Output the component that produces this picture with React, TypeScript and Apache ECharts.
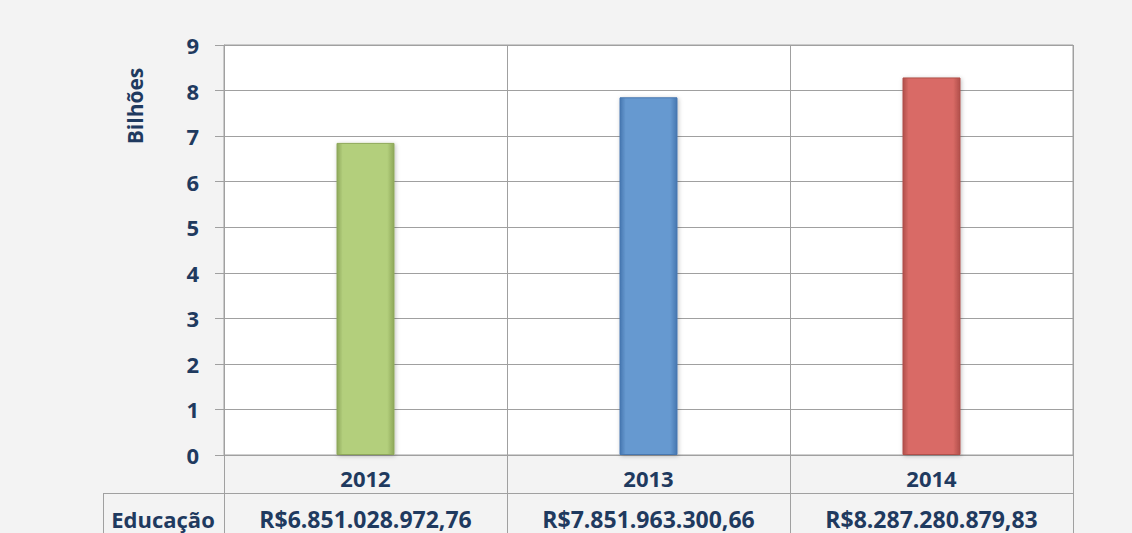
import React, { useEffect, useRef } from "react";
import * as echarts from "echarts";

const categories = ["2012", "2013", "2014"];
const valuesBillions = [6.85102897276, 7.85196330066, 8.28728087983];
const valueLabels = ["R$6.851.028.972,76", "R$7.851.963.300,66", "R$8.287.280.879,83"];
const rowLabel = "Educação";
const yAxisTitle = "Bilhões";
const barColors = [
  { main: "#B3CF7C", edge: "#8EA85A" },
  { main: "#6699D0", edge: "#4677B0" },
  { main: "#D96B66", edge: "#B04F4A" },
];

const TEXT = "#1F3A5F";
const LINE = "#A0A0A0";
const FONT = "'Open Sans', 'Noto Sans', sans-serif";

export default function App() {
  const ref = useRef<HTMLDivElement>(null);
  useEffect(() => {
    document.body.style.margin = "0";
    const chart = echarts.init(ref.current!, null, { renderer: "svg" });
    const gl = 224, gt = 45, gw = 849, gh = 410;
    chart.setOption({
      animation: false,
      backgroundColor: "#F3F3F3",
      grid: { left: gl, top: gt, width: gw, height: gh, show: true, backgroundColor: "#FFFFFF", borderColor: LINE, borderWidth: 1 },
      xAxis: [
        {
          type: "category",
          data: categories,
          axisLine: { show: true, lineStyle: { color: LINE } },
          axisTick: { show: true, length: 78, lineStyle: { color: LINE } },
          splitLine: { show: true, lineStyle: { color: LINE } },
          axisLabel: { margin: 12, color: TEXT, fontSize: 22, fontWeight: "bold", fontFamily: FONT },
        },
        {
          type: "category",
          data: categories,
          position: "bottom",
          offset: 38,
          axisLine: { show: false },
          axisTick: { show: false },
          axisLabel: {
            margin: 14,
            color: TEXT,
            fontSize: 23,
            fontWeight: "bold",
            fontFamily: FONT,
            formatter: (_v: string, i: number) => valueLabels[i],
          },
        },
      ],
      yAxis: {
        type: "value",
        min: 0,
        max: 9,
        interval: 1,
        axisLine: { show: true, lineStyle: { color: LINE } },
        axisTick: { show: true, length: 9, lineStyle: { color: LINE } },
        splitLine: { show: true, lineStyle: { color: LINE } },
        axisLabel: { margin: 25, color: TEXT, fontSize: 22, fontWeight: "bold", fontFamily: FONT },
      },
      series: [
        {
          type: "bar",
          barWidth: 58,
          data: valuesBillions.map((v, i) => ({
            value: v,
            itemStyle: {
              borderColor: barColors[i].edge,
              borderWidth: 1,
              color: new echarts.graphic.LinearGradient(0, 0, 1, 0, [
                { offset: 0, color: barColors[i].edge },
                { offset: 0.1, color: barColors[i].main },
                { offset: 0.88, color: barColors[i].main },
                { offset: 1, color: barColors[i].edge },
              ]),
              shadowColor: "rgba(0,0,0,0.25)",
              shadowBlur: 4,
              shadowOffsetX: 1,
              shadowOffsetY: 1,
            },
          })),
        },
      ],
      graphic: [
        { type: "line", shape: { x1: 103, y1: 493.5, x2: 1073, y2: 493.5 }, style: { stroke: LINE, lineWidth: 1 }, z: 10 },
        { type: "line", shape: { x1: 103.5, y1: 493, x2: 103.5, y2: 533 }, style: { stroke: LINE, lineWidth: 1 }, z: 10 },
        {
          type: "text",
          x: 163,
          y: 519,
          style: { text: rowLabel, fill: TEXT, font: `bold 22px ${FONT}`, align: "center", verticalAlign: "middle" },
        },
        {
          type: "text",
          x: 135,
          y: 106,
          rotation: Math.PI / 2,
          style: { text: yAxisTitle, fill: TEXT, font: `bold 21px ${FONT}`, align: "center", verticalAlign: "middle" },
        },
      ],
    });
    return () => chart.dispose();
  }, []);
  return <div ref={ref} style={{ width: 1132, height: 533 }} />;
}
